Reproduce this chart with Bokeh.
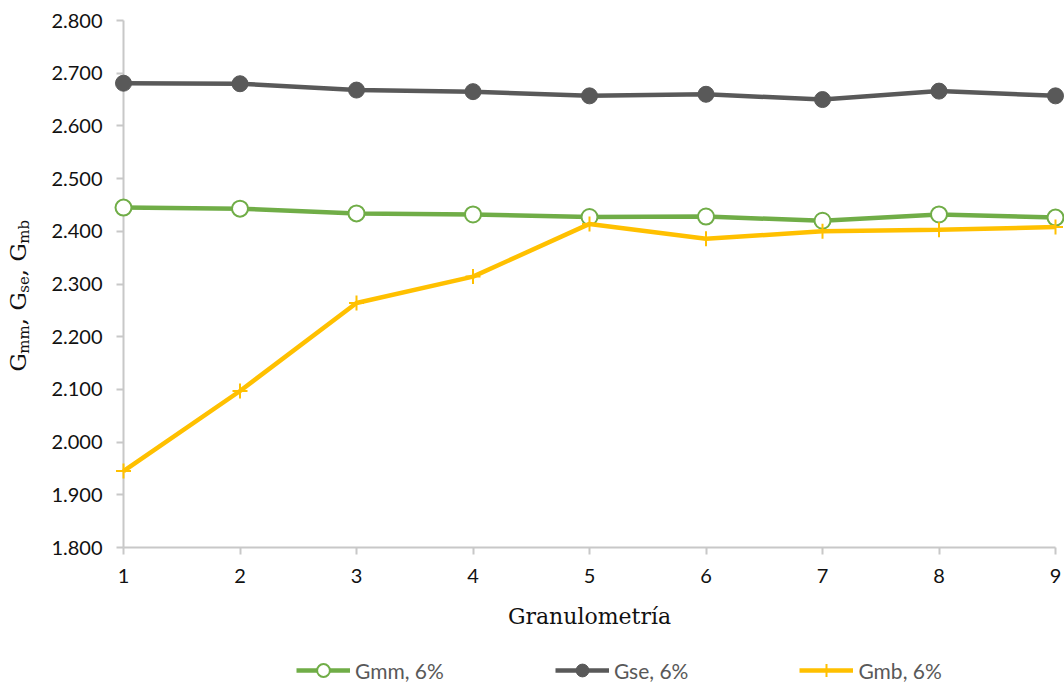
import math
from bokeh.plotting import figure
from bokeh.models import (Range1d, Legend, LegendItem, Label, FixedTicker,
                          NumeralTickFormatter)
from bokeh.embed import file_html
from bokeh.resources import INLINE

# ---- data ----
granulometria = [1, 2, 3, 4, 5, 6, 7, 8, 9]
gmm = [2.445, 2.443, 2.434, 2.432, 2.427, 2.428, 2.420, 2.432, 2.426]
gse = [2.681, 2.680, 2.668, 2.665, 2.657, 2.660, 2.650, 2.666, 2.657]
gmb = [1.945, 2.097, 2.264, 2.314, 2.414, 2.386, 2.400, 2.403, 2.408]
series_names = ["Gmm, 6%", "Gse, 6%", "Gmb, 6%"]
y_ticks = [1.8, 1.9, 2.0, 2.1, 2.2, 2.3, 2.4, 2.5, 2.6, 2.7, 2.8]
x_title = "Granulometría"
y_title_parts = [("G", False), ("mm", True), (", G", False), ("se", True), (", G", False), ("mb", True)]

GREEN = "#70AD47"
GRAY = "#595959"
GOLD = "#FFC000"
AXIS = "#C8C8C8"
SANS = "Lato"
SERIF = "DejaVu Serif"

W, H = 1064, 686
# pixel layout of the plotting area (axes drawn at fixed data locations,
# the frame covers the whole canvas so nothing gets clipped)
X0_PX, X9_PX = 123, 1055
YTOP_PX, YBOT_PX = 20, 547
xu = (X9_PX - X0_PX) / (granulometria[-1] - granulometria[0])
yu = (YBOT_PX - YTOP_PX) / (y_ticks[-1] - y_ticks[0])
x_rng = Range1d(granulometria[0] - X0_PX / xu, granulometria[-1] + (W - X9_PX) / xu)
y_rng = Range1d(y_ticks[0] - (H - YBOT_PX) / yu, y_ticks[-1] + YTOP_PX / yu)

p = figure(width=W, height=H, output_backend="svg", toolbar_location=None,
           x_range=x_rng, y_range=y_rng,
           min_border_left=0, min_border_right=0, min_border_top=0, min_border_bottom=0)
p.min_border = 0
p.outline_line_color = None
p.grid.visible = False
p.background_fill_color = "white"
p.border_fill_color = "white"

# axes (fixed at x = 1 and y = 1.800)
p.xaxis.ticker = FixedTicker(ticks=granulometria)
p.xaxis.bounds = (granulometria[0], granulometria[-1])
p.xaxis.fixed_location = y_ticks[0]
p.yaxis.ticker = FixedTicker(ticks=y_ticks)
p.yaxis.formatter = NumeralTickFormatter(format="0.000")
p.yaxis.bounds = (y_ticks[0], y_ticks[-1])
p.yaxis.fixed_location = granulometria[0]
for ax in (p.xaxis, p.yaxis):
    ax.level = "underlay"
    ax.axis_line_color = AXIS
    ax.axis_line_width = 2
    ax.major_tick_line_color = AXIS
    ax.major_tick_line_width = 2
    ax.major_tick_out = 7
    ax.major_tick_in = 0
    ax.minor_tick_line_color = None
    ax.major_label_text_font = SANS
    ax.major_label_text_font_size = "20px"
    ax.major_label_text_color = "#111111"
p.xaxis.major_label_standoff = 14
p.yaxis.major_label_standoff = 14

p.xaxis.axis_label = x_title
p.xaxis.axis_label_text_font = SERIF
p.xaxis.axis_label_text_font_size = "22px"
p.xaxis.axis_label_text_font_style = "normal"
p.xaxis.axis_label_text_color = "#111111"
p.xaxis.axis_label_standoff = 18

# series
r_gmm_l = p.line(granulometria, gmm, line_color=GREEN, line_width=4.5)
r_gmm_m = p.scatter(granulometria, gmm, marker="circle", size=16, fill_color="white",
                    line_color=GREEN, line_width=2)
r_gse_l = p.line(granulometria, gse, line_color=GRAY, line_width=4.5)
r_gse_m = p.scatter(granulometria, gse, marker="circle", size=16, fill_color=GRAY,
                    line_color=GRAY, line_width=1)
r_gmb_l = p.line(granulometria, gmb, line_color=GOLD, line_width=4.5)
r_gmb_m = p.scatter(granulometria, gmb, marker="cross", size=15, line_color=GOLD, line_width=2)

legend = Legend(items=[
    LegendItem(label=series_names[0], renderers=[r_gmm_l, r_gmm_m]),
    LegendItem(label=series_names[1], renderers=[r_gse_l, r_gse_m]),
    LegendItem(label=series_names[2], renderers=[r_gmb_l, r_gmb_m]),
], orientation="horizontal", location=(296, 0))
legend.border_line_color = None
legend.background_fill_alpha = 0
legend.label_text_font = SANS
legend.label_text_font_size = "21px"
legend.label_text_color = GRAY
legend.glyph_width = 54
legend.glyph_height = 32
legend.label_standoff = 5
legend.spacing = 111
legend.padding = 0
legend.margin = 0
p.add_layout(legend, "center")

# y-axis title with subscripts (screen units from the bottom-left corner)
main_size, sub_size = 23, 15
widths = {"G": 0.775, "m": 0.948, "s": 0.513, "e": 0.592, "b": 0.640, ",": 0.318, " ": 0.318}
ypos = float(H - 371)
for txt, is_sub in y_title_parts:
    fs = sub_size if is_sub else main_size
    p.add_layout(Label(x=23 if is_sub else 17, y=ypos, x_units="screen", y_units="screen",
                       text=txt, angle=math.pi / 2, text_font=SERIF,
                       text_font_size=f"{fs}px", text_color="#111111",
                       text_align="left", text_baseline="alphabetic"))
    ypos += sum(widths[c] for c in txt) * fs

open("out.html", "w").write(file_html(p, INLINE))
